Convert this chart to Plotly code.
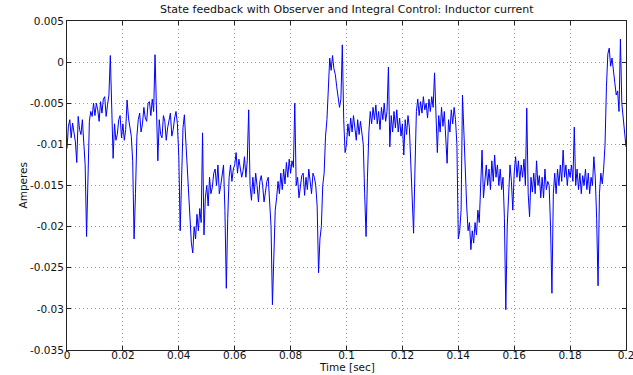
import plotly.graph_objects as go

# Sample spacing of the recorded trace (seconds)
DT = 0.0005

# Inductor current, in units of 1e-4 A, one row per 10 ms (20 samples)
current_e4 = [
    -105, -78, -70, -92, -74, -85, -97, -122, -66, -82, -88, -70, -92, -125, -212, -138, -72, -60, -66, -50,
    -65, -50, -58, -72, -48, -62, -45, -42, -66, -52, -40, 8, -60, -117, -75, -95, -88, -70, -65, -92,
    -75, -95, -82, -46, -68, -80, -90, -120, -215, -160, -90, -70, -62, -85, -75, -55, -68, -72, -50, -48,
    -65, -45, -60, 9, -55, -120, -70, -88, -92, -65, -72, -95, -80, -70, -62, -90, -82, -68, -60, -75,
    -115, -205, -140, -80, -64, -95, -130, -165, -195, -220, -232, -200, -215, -185, -205, -178, -195, -86, -210, -165,
    -150, -175, -140, -160, -152, -135, -130, -150, -125, -160, -150, -138, -125, -180, -275, -190, -140, -125, -145, -130,
    -125, -110, -135, -118, -128, -140, -132, -115, -140, -120, -58, -150, -168, -140, -160, -135, -150, -170, -145, -138,
    -150, -170, -158, -145, -140, -175, -200, -295, -240, -180, -165, -145, -160, -135, -155, -130, -148, -122, -140, -118,
    -135, -120, -128, -50, -150, -140, -165, -150, -138, -135, -162, -140, -155, -130, -150, -160, -135, -140, -150, -175,
    -256, -215, -200, -150, -135, -90, -70, -25, 5, -10, 8, -8, -15, -30, -40, -55, -45, 21, -70, -110,
    -100, -75, -90, -68, -85, -65, -80, -95, -70, -88, -72, -90, -100, -160, -212, -140, -85, -60, -75, -55,
    -70, -52, -75, -60, -82, -55, -70, -50, -72, -60, -6, -103, -65, -85, -60, -80, -58, -85, -68, -90,
    -75, -113, -70, -88, -65, -80, -120, -175, -208, -130, -60, -45, -65, -48, -62, -42, -58, -50, -68, -45,
    -60, -42, -55, -13, -75, -110, -65, -85, -55, -78, -60, -90, -123, -70, -85, -58, -75, -55, -70, -100,
    -215, -205, -180, -40, -85, -140, -175, -205, -195, -228, -205, -220, -195, -210, -180, -195, -160, -107, -165, -140,
    -125, -150, -130, -155, -120, -145, -113, -140, -125, -150, -130, -155, -140, -190, -301, -200, -150, -125, -145, -180,
    -135, -115, -140, -120, -145, -125, -140, -118, -150, -56, -160, -188, -140, -158, -135, -160, -120, -150, -138, -165,
    -140, -165, -130, -155, -145, -150, -200, -281, -160, -135, -160, -130, -150, -125, -145, -107, -140, -125, -150, -130,
    -140, -125, -145, -79, -150, -130, -155, -135, -160, -138, -150, -130, -155, -135, -160, -140, -150, -115, -140, -190,
    -272, -160, -135, -148, -130, -100, -30, 10, 17, -5, 5, -15, -25, -40, -35, -60, 28, -50, -70, -85,
    -103,
]

x_ticks = [0, 0.02, 0.04, 0.06, 0.08, 0.1, 0.12, 0.14, 0.16, 0.18, 0.2]
x_labels = ["0", "0.02", "0.04", "0.06", "0.08", "0.1", "0.12", "0.14", "0.16", "0.18", "0.2"]
y_ticks = [0.005, 0, -0.005, -0.01, -0.015, -0.02, -0.025, -0.03, -0.035]
y_labels = ["0.005", "0", "-0.005", "-0.01", "-0.015", "-0.02", "-0.025", "-0.03", "-0.035"]

time_s = [i * DT for i in range(len(current_e4))]
current_a = [v * 1e-4 for v in current_e4]

FONT = "DejaVu Sans, Verdana, sans-serif"
TXT = "#111111"

fig = go.Figure()
fig.add_trace(go.Scatter(
    x=time_s, y=current_a, mode="lines",
    line=dict(color="#0000ff", width=1),
    hoverinfo="skip", showlegend=False,
))

axis_common = dict(
    showline=True, linecolor="#222222", linewidth=1, mirror="ticks",
    ticks="inside", ticklen=4, tickcolor="#222222",
    showgrid=True, gridcolor="#9a9a9a", griddash="1px,3px", gridwidth=1,
    zeroline=False, tickfont=dict(family=FONT, size=10.5, color=TXT),
    ticklabeloverflow="allow", automargin=False,
)

fig.update_layout(
    width=633, height=375,
    margin=dict(l=67, r=7, t=21, b=25),
    paper_bgcolor="white", plot_bgcolor="white",
    xaxis=dict(range=[0, 0.2], tickvals=x_ticks, ticktext=x_labels,
               ticklabelstandoff=-5, **axis_common),
    yaxis=dict(range=[-0.035, 0.005], tickvals=y_ticks, ticktext=y_labels, **axis_common),
    annotations=[
        dict(text="State feedback with Observer and Integral Control: Inductor current",
             xref="paper", yref="paper", x=0.5, y=1 + 11 / 329, xanchor="center", yanchor="middle",
             showarrow=False, font=dict(family=FONT, size=11, color=TXT)),
        dict(text="Time [sec]", xref="paper", yref="paper", x=0.5, y=-17 / 329,
             xanchor="center", yanchor="middle", showarrow=False,
             font=dict(family=FONT, size=10.5, color=TXT)),
        dict(text="Amperes", xref="paper", yref="paper", x=-45 / 559, y=0.5,
             xanchor="center", yanchor="middle", textangle=-90, showarrow=False,
             font=dict(family=FONT, size=10.5, color=TXT)),
    ],
)

fig.write_html("out.html")
